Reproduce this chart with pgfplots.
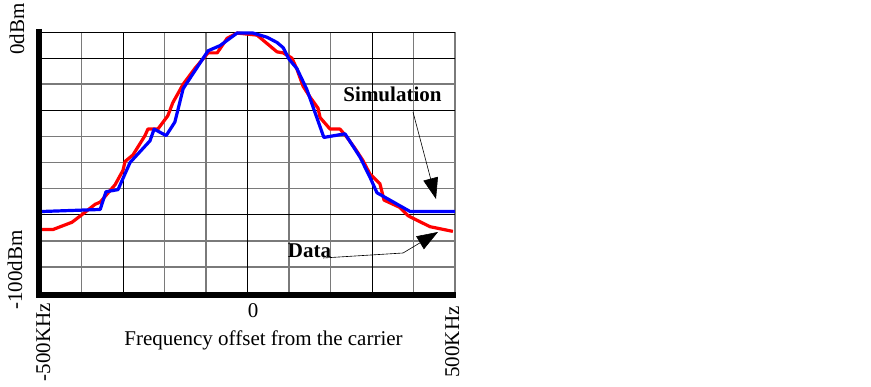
\documentclass[border=0pt]{standalone}
\usepackage{pgfplots}
\pgfplotsset{compat=1.18}
\usepackage{fontspec}
\setmainfont{Liberation Serif}
\usetikzlibrary{arrows.meta}
\begin{document}
\begin{tikzpicture}
\fontsize{21}{25}\selectfont
\path (0,0) rectangle (871pt,386pt);
\begin{axis}[at={(40pt,93pt)}, anchor=south west, scale only axis,
  width=415pt, height=261pt,
  xmin=-500, xmax=500, ymin=-100, ymax=0,
  axis line style={draw=none},
  xtick={-400,-200,-100,100,200,400,500},
  ytick={-20,-40,-50,-60,-80,-90},
  xticklabels={}, yticklabels={},
  grid=major,
  major grid style={draw=black!52, line width=1.7pt},
  extra x ticks={-300,0,300}, extra y ticks={0,-10,-30,-70},
  extra x tick labels={}, extra y tick labels={},
  extra tick style={grid=major, major grid style={draw=black, line width=0.9pt}},
  tick style={draw=none},
  clip=false]
\addplot[color=red, line width=3.2pt, line join=round] coordinates {
(-500,-75.7) (-469,-75.7) (-423,-72.9) (-399,-70) (-367,-66) (-355,-65.2)
(-319,-58.5) (-300,-53) (-295,-49.6) (-276,-47.1) (-247,-39.7) (-240,-37.2)
(-216,-37.2) (-192,-32.1) (-180,-27.1) (-155,-20) (-127,-14) (-95,-8)
(-73,-8) (-49,-2.4) (-25,-0.4) (23,-1.2) (47,-4.4) (71,-7.6) (86,-8)
(107,-10) (119,-14.2) (134,-20.8) (151,-25) (170,-29.2) (175,-32.8)
(199,-37.2) (223,-37.2) (240,-40.4) (259,-44.6) (278,-49.2) (295,-54.4)
(319,-58.1) (329,-64.4) (367,-67.2) (387,-70.4) (408,-72.1) (440,-74.6)
(495,-76.4)};
\addplot[color=blue, line width=3.2pt, line join=round] coordinates {
(-500,-68.8) (-355,-68) (-341,-61.2) (-312,-60.4) (-283,-50) (-235,-41.7)
(-225,-37.2) (-196,-39.7) (-175,-34.5) (-155,-21.7) (-95,-7.2) (-66,-5.2)
(-25,-0.4) (13,-0.4) (47,-2) (71,-4) (86,-6) (100,-10.4) (119,-14)
(143,-22) (184,-40.4) (235,-39) (271,-47.9) (295,-55.6) (312,-61.6)
(392,-68.8) (500,-68.8)};
\end{axis}
\begin{scope}[x=1pt, y=-1pt, yshift=386pt]
\draw[line width=6pt] (39,29) -- (39,298);
\draw[line width=6pt] (36,295) -- (456,295);
\node[rotate=90, anchor=base, inner sep=0] at (24,29) {0dBm};
\node[rotate=90, anchor=base, inner sep=0] at (22,270) {-100dBm};
\node[rotate=90, anchor=base, inner sep=0] at (50,342) {-500KHz};
\node[rotate=90, anchor=base, inner sep=0] at (459,342) {500KHz};
\node[anchor=base, inner sep=0] at (253,318) {0};
\node[anchor=base, inner sep=0] at (263.5,345) {Frequency offset from the carrier};
\node[anchor=base, inner sep=0, font=\bfseries] at (392.5,102) {Simulation};
\node[anchor=base, inner sep=0, font=\bfseries] at (309.5,258) {Data};
\draw[line width=0.6pt, -{Triangle[length=21pt,width=15pt]}] (413,112) -- (436,199);
\draw[line width=0.6pt, -{Triangle[length=21pt,width=15pt]}] (323,258) -- (403,253) -- (438,232);
\end{scope}
\end{tikzpicture}
\end{document}
